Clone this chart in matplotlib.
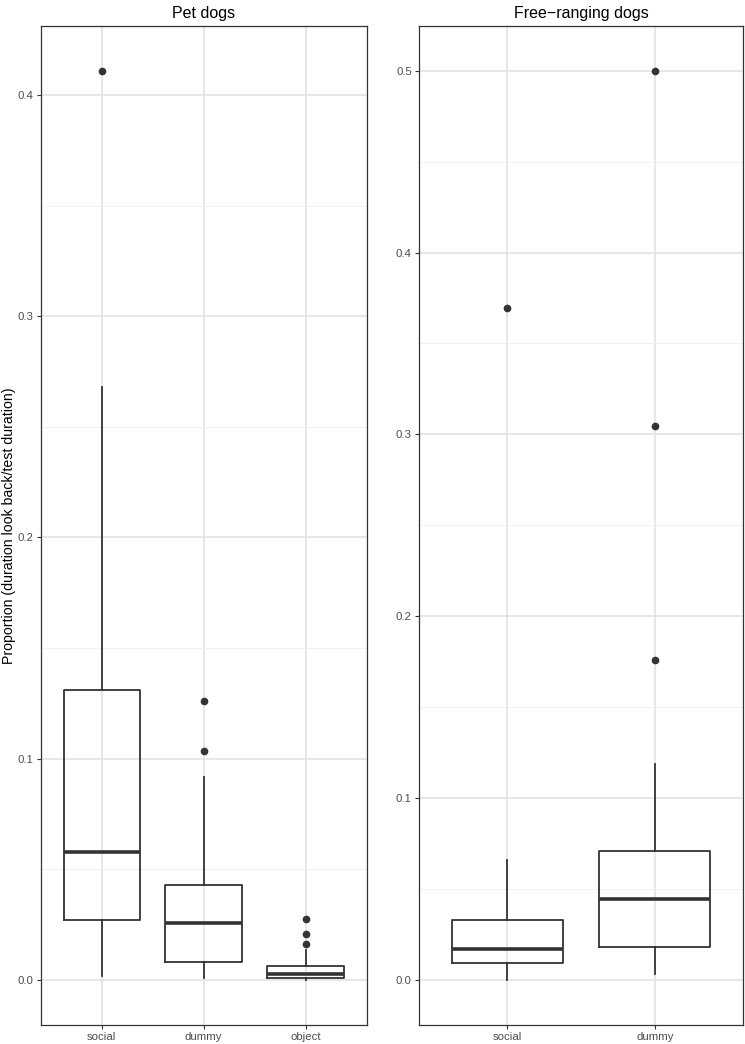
import matplotlib
matplotlib.use('Agg')
import matplotlib.pyplot as plt

plt.rcParams['font.family'] = ['Liberation Sans', 'DejaVu Sans']

# box statistics (q1, median, q3, whiskers, outliers)
pet_groups = ["social", "dummy", "object"]
pet_whislo = [0.0015, 0.0005, 0.0]
pet_q1 = [0.0271, 0.0081, 0.0008]
pet_med = [0.0575, 0.0258, 0.0026]
pet_q3 = [0.1312, 0.0426, 0.0063]
pet_whishi = [0.268, 0.0916, 0.0132]
pet_fliers = [[0.4108], [0.1036, 0.1262], [0.0161, 0.0206, 0.0272]]

free_groups = ["social", "dummy"]
free_whislo = [0.0, 0.0029]
free_q1 = [0.0090, 0.0178]
free_med = [0.0169, 0.0444]
free_q3 = [0.0326, 0.0708]
free_whishi = [0.0659, 0.1187]
free_fliers = [[0.3695], [0.176, 0.3045, 0.4997]]

dark = '#333333'
W, H = 745, 1044
fig = plt.figure(figsize=(W / 100, H / 100), dpi=100)


def panel(rect, title, groups, lo, q1, med, q3, hi, fliers, ymax, yticks):
	ax = fig.add_axes(rect)
	stats = []
	for i in range(len(groups)):
		stats.append(dict(whislo=lo[i], q1=q1[i], med=med[i], q3=q3[i],
		                  whishi=hi[i], fliers=fliers[i]))
	pos = list(range(1, len(groups) + 1))
	ax.bxp(stats, positions=pos, widths=0.75, showcaps=False,
	       boxprops=dict(color=dark, linewidth=1.3),
	       whiskerprops=dict(color=dark, linewidth=1.3),
	       medianprops=dict(color=dark, linewidth=2.6, solid_capstyle='butt'),
	       flierprops=dict(marker='o', markersize=4.5, markerfacecolor=dark,
	                       markeredgecolor=dark, linestyle='none'),
	       zorder=3)
	ax.set_xlim(0.4, len(groups) + 0.6)
	pad = ymax * 0.05
	ax.set_ylim(-pad, ymax + pad)
	ax.set_xticks(pos)
	ax.set_xticklabels(groups)
	ax.set_yticks(yticks)
	ax.set_yticklabels(['%.1f' % v for v in yticks])
	minors = [v + 0.05 for v in yticks if v + 0.05 < ymax + pad]
	ax.set_yticks(minors, minor=True)
	ax.tick_params(axis='y', which='minor', length=0)
	ax.grid(True, which='major', color='#E0E0E0', linewidth=1.1, zorder=0)
	ax.grid(True, which='minor', axis='y', color='#F0F0F0', linewidth=0.7, zorder=0)
	ax.set_axisbelow(True)
	ax.tick_params(axis='both', which='major', length=3, width=0.8, color=dark,
	               labelcolor='#4D4D4D', labelsize=8.2, pad=2)
	for s in ax.spines.values():
		s.set_color(dark)
		s.set_linewidth(0.9)
	ax.set_title(title, fontsize=11.5, color='black', pad=6)
	return ax


ax1 = panel([40.7 / W, 19 / H, 326 / W, 999 / H], "Pet dogs", pet_groups,
            pet_whislo, pet_q1, pet_med, pet_q3, pet_whishi, pet_fliers,
            0.4108, [0.0, 0.1, 0.2, 0.3, 0.4])
fig.text(9 / W, 1 - 525.5 / H, "Proportion (duration look back/test duration)",
         rotation=90, ha='center', va='center', fontsize=10.2, color='black')

ax2 = panel([418.7 / W, 19 / H, 324.6 / W, 999 / H], "Free\u2212ranging dogs", free_groups,
            free_whislo, free_q1, free_med, free_q3, free_whishi, free_fliers,
            0.4997, [0.0, 0.1, 0.2, 0.3, 0.4, 0.5])

fig.savefig('out.png', dpi=100)
